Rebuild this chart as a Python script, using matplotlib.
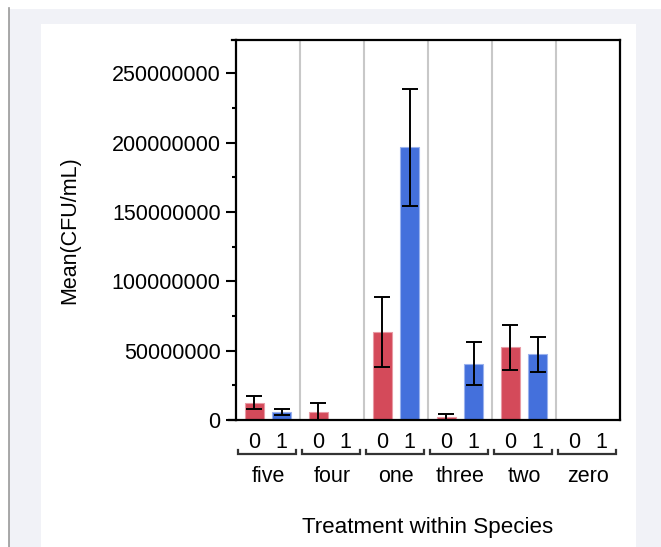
import matplotlib
matplotlib.use("Agg")
import matplotlib.pyplot as plt
import matplotlib.patches as mpatches
from matplotlib.lines import Line2D
import numpy as np

species = ["five", "four", "one", "three", "two", "zero"]
treatments = ["0", "1"]
mean_t0 = [12.5e6, 5.8e6, 63.5e6, 2.0e6, 52.4e6, 0.0]
mean_t1 = [5.8e6, 0.0, 196.5e6, 40.6e6, 47.3e6, 0.0]
err_t0 = [4.6e6, 6.3e6, 25.0e6, 2.3e6, 16.0e6, 0.0]
err_t1 = [2.0e6, 0.0, 42.0e6, 15.4e6, 12.6e6, 0.0]
yticks = [0, 50000000, 100000000, 150000000, 200000000, 250000000]
yminor = [25000000, 75000000, 125000000, 175000000, 225000000]

plt.rcParams['font.family'] = ['Liberation Sans', 'DejaVu Sans']
FS = 15.5

W, H = 661, 547
fig = plt.figure(figsize=(W / 100, H / 100), dpi=100)
fig.patch.set_facecolor("white")
# background panels
fig.patches.append(mpatches.Rectangle((9 / W, 0), 1, 1 - 9 / H, transform=fig.transFigure,
                                      facecolor="#f1f2f7", edgecolor="none", zorder=-3))
fig.patches.append(mpatches.Rectangle((41 / W, 0), (636 - 41) / W, 1 - 24 / H, transform=fig.transFigure,
                                      facecolor="white", edgecolor="none", zorder=-2))
fig.lines.append(Line2D([8.5 / W, 8.5 / W], [0, 1 - 8 / H], transform=fig.transFigure,
                        color="#999999", lw=1.2))

left, right, top, bottom = 236, 620, 40, 420
ax = fig.add_axes([left / W, 1 - bottom / H, (right - left) / W, (bottom - top) / H])
ax.set_facecolor("white")

red = "#d44a5a"
blue = "#4470dc"
n = len(species)
off = 0.215
bw = 0.29
x = np.arange(n) + 0.5

for i in range(1, n):
    ax.axvline(i, color="#c8c8c8", lw=1.5, zorder=0)

ax.bar(x - off, mean_t0, width=bw, color=red, edgecolor="#e89aa4", linewidth=0.8, zorder=2)
ax.bar(x + off, mean_t1, width=bw, color=blue, edgecolor="#9ab2ee", linewidth=0.8, zorder=2)
for xs, m, e in [(x - off, mean_t0, err_t0), (x + off, mean_t1, err_t1)]:
    for xi, mi, ei in zip(xs, m, e):
        if ei > 0:
            ax.errorbar(xi, mi, yerr=ei, color="black", lw=1.4, capsize=5.5, capthick=1.4, zorder=3)

ax.set_xlim(0, n)
ax.set_ylim(0, 274e6)
ax.set_yticks(yticks)
ax.set_yticklabels([str(v) for v in yticks], fontsize=FS)
ax.set_yticks(yminor, minor=True)
ax.tick_params(axis="y", which="major", length=7, width=1.5, direction="out", pad=4)
ax.tick_params(axis="y", which="minor", length=3, width=1.5, direction="out")

xt = np.concatenate([x - off, x + off])
ax.set_xticks(xt)
ax.set_xticklabels(["0"] * n + ["1"] * n, fontsize=FS)
ax.tick_params(axis="x", length=0, pad=9)

for s in ax.spines.values():
    s.set_linewidth(1.6)
    s.set_color("black")
ax.plot([-4.5 / 384, 0], [1, 1], transform=ax.transAxes, color="black", lw=1.6, clip_on=False)
ax.plot([-7 / 384, 0], [0, 0], transform=ax.transAxes, color="black", lw=1.6, clip_on=False)

ah = bottom - top
aw = right - left
yb = -34 / ah
yt = -30 / ah
for i, sp in enumerate(species):
    x0 = i + 2 / 64
    x1 = i + 60 / 64
    ax.plot([x0, x0, x1, x1], [yt, yb, yb, yt], transform=ax.get_xaxis_transform(),
            color="#333333", lw=1.6, clip_on=False, solid_joinstyle="miter")
    ax.text(i + 0.5, -57 / ah, sp, transform=ax.get_xaxis_transform(),
            ha="center", va="center", fontsize=FS)

ax.set_xlabel("Treatment within Species", fontsize=FS + 0.6)
ax.xaxis.set_label_coords(0.5, -108 / ah)
ax.xaxis.label.set_va("center")
ax.set_ylabel("Mean(CFU/mL)", fontsize=FS)
ax.yaxis.set_label_coords((70 - left) / aw, 0.5)
ax.yaxis.label.set_va("center")

fig.savefig("out.png", dpi=100)
